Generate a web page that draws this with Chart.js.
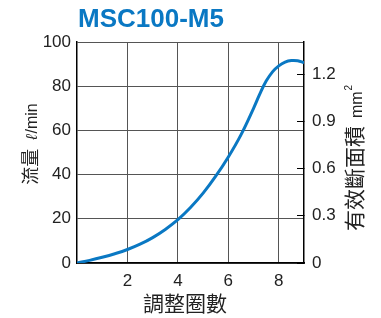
<!DOCTYPE html>
<html lang="zh-Hant">
<head>
  <meta charset="UTF-8" />
  <title>MSC100-M5</title>
  <script src="https://cdn.jsdelivr.net/npm/chart.js"></script>
  <style>
    html, body { margin: 0; padding: 0; background: #fff; }
    canvas { display: block; }
  </style>
</head>
<body>
  <canvas id="chart" width="381" height="318"></canvas>

  <script>
    // values
    const chartTitle = "MSC100-M5";
    const xTitle = "調整圈數";
    const turns = [0, 0.5, 1, 1.5, 2, 2.5, 3, 3.5, 4, 4.5, 5, 5.5, 6, 6.5, 7, 7.25, 7.5, 7.75, 8, 8.25, 8.5, 8.75, 9];
    const flow = [0, 1.2, 2.6, 4.2, 6.1, 8.5, 11.5, 15.2, 19.6, 25.1, 31.6, 39.3, 48, 58, 70, 76.5, 82.3, 86.5, 89.2, 90.9, 91.6, 91.5, 90.6];
    const xTicks = [2, 4, 6, 8];
    const flowTicks = [0, 20, 40, 60, 80, 100];
    const areaTicks = [0, 0.3, 0.6, 0.9, 1.2];
    const areaMax = 1.405;

    const blue = "#0a78c3";
    const ink = "#222";
    const latin = "'Liberation Sans', Arial, sans-serif";
    const cjk = "'Noto Sans CJK TC', 'Noto Sans CJK JP', sans-serif";

    function drawRun(ctx, parts, cx, cy, rot) {
      ctx.save();
      ctx.translate(cx, cy);
      ctx.rotate(rot);
      let total = 0;
      parts.forEach(p => {
        ctx.font = p.font;
        p.w = ctx.measureText(p.text).width;
        total += p.w + (p.gap || 0);
      });
      let x = -total / 2;
      ctx.fillStyle = ink;
      ctx.textBaseline = "alphabetic";
      ctx.textAlign = "left";
      parts.forEach(p => {
        ctx.font = p.font;
        ctx.fillText(p.text, x, p.dy || 0);
        x += p.w + (p.gap || 0);
      });
      ctx.restore();
    }

    const titles = {
      id: "titles",
      afterDraw(chart) {
        const ctx = chart.ctx;
        const area = chart.chartArea;
        ctx.save();
        ctx.fillStyle = blue;
        ctx.font = "bold 26px " + latin;
        ctx.textBaseline = "alphabetic";
        ctx.fillText(chartTitle, area.left + 1, 27);
        ctx.restore();

        drawRun(ctx, [{ text: xTitle, font: "21px " + cjk }], 185, 311, 0);
        drawRun(ctx, [
          { text: "流量", font: "18px " + cjk, gap: 9 },
          { text: "ℓ", font: "italic 16px " + latin, gap: 1 },
          { text: "/min", font: "16px " + latin }
        ], 37, 144, -Math.PI / 2);
        drawRun(ctx, [
          { text: "有效斷面積", font: "21px " + cjk, gap: 8 },
          { text: "mm", font: "16px " + latin, gap: 1 },
          { text: "2", font: "10px " + latin, dy: -10 }
        ], 362, 158, -Math.PI / 2);
      }
    };

    new Chart(document.getElementById("chart"), {
      type: "line",
      data: {
        datasets: [{
          data: turns.map((t, i) => ({ x: t, y: flow[i] })),
          borderColor: blue,
          borderWidth: 3,
          pointRadius: 0,
          fill: false,
          tension: 0.4
        }]
      },
      options: {
        responsive: false,
        animation: false,
        layout: { padding: { top: 42, left: 0, right: 0, bottom: 0 } },
        plugins: { legend: { display: false }, tooltip: { enabled: false } },
        scales: {
          x: {
            type: "linear",
            min: 0,
            max: 9,
            afterBuildTicks: s => { s.ticks = xTicks.map(v => ({ value: v })); },
            afterFit: s => { s.height = 55; },
            grid: { color: "#555", lineWidth: 1, drawTicks: false },
            border: { color: "#000", width: 1.5 },
            ticks: { color: ink, padding: 8, font: { family: latin, size: 17 } }
          },
          y: {
            min: 0,
            max: 100,
            afterBuildTicks: s => { s.ticks = flowTicks.map(v => ({ value: v })); },
            afterFit: s => { s.width = 77; },
            grid: { color: "#555", lineWidth: 1, drawTicks: false },
            border: { color: "#000", width: 1.5 },
            ticks: { color: ink, padding: 6, font: { family: latin, size: 17 } }
          },
          y2: {
            position: "right",
            min: 0,
            max: areaMax,
            afterBuildTicks: s => { s.ticks = areaTicks.map(v => ({ value: v })); },
            afterFit: s => { s.width = 77; },
            grid: { drawOnChartArea: false, drawTicks: true, tickLength: -7, color: "#000", lineWidth: 1 },
            border: { color: "#000", width: 1.5 },
            ticks: { color: ink, padding: 15, font: { family: latin, size: 17 } }
          }
        }
      },
      plugins: [titles]
    });
  </script>
</body>
</html>
